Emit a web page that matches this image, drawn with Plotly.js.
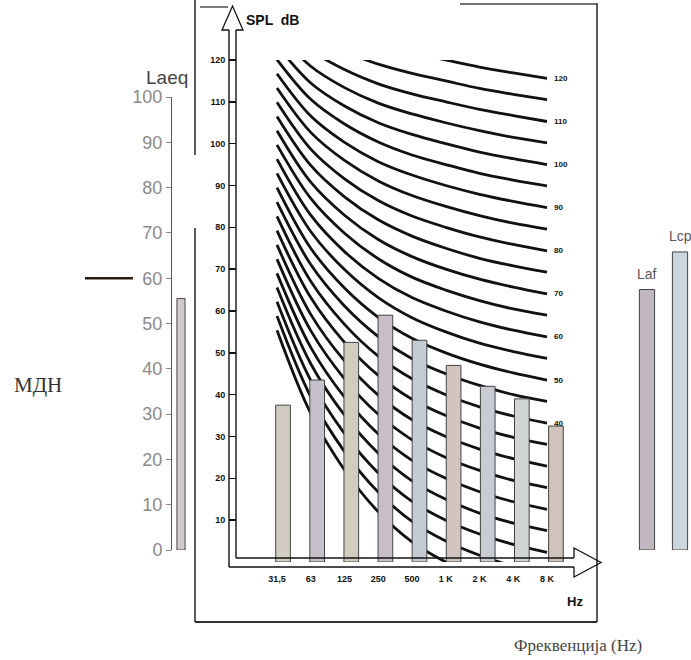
<!DOCTYPE html>
<html><head><meta charset="utf-8">
<script src="https://cdn.plot.ly/plotly-3.0.1.min.js"></script>
<style>html,body{margin:0;padding:0;background:#fff}#chart{width:691px;height:660px}</style>
</head><body><div id="chart"></div>
<script>
// ---- data ----
const bands = ['31,5', '63', '125', '250', '500', '1 K', '2 K', '4 K', '8 K'];
const bandSPL = [37.5, 43.5, 52.5, 59, 53, 47, 42, 39, 32.5];
const bandColors = ['#d2cdc2', '#c6c0ca', '#d1ccbd', '#c9bec7', '#c5cbd3', '#d2c4bf', '#c9cbd3', '#d1d5d4', '#cfc3bb'];
const laeqCat = ['Laeq'];
const laeqValue = [55.5];
const sideLabels = ['Laf', 'Lcp'];
const sideValues = [57.5, 65.8];
const sideColors = ['#c2b8c2', '#cad5dc'];
const limitMDN = 60;
const laeqTicks = [0, 10, 20, 30, 40, 50, 60, 70, 80, 90, 100];
const splTicks = [10, 20, 30, 40, 50, 60, 70, 80, 90, 100, 110, 120];
const nrLevels = [0, 5, 10, 15, 20, 25, 30, 35, 40, 45, 50, 55, 60, 65, 70, 75, 80, 85, 90, 95, 100, 105, 110, 115, 120];
const nrLabelled = [40, 50, 60, 70, 80, 90, 100, 110, 120];
const nr0   = [55.4, 35.5, 22.0, 12.0, 4.8, 0, -3.5, -6.1, -8.0];
const nr5   = [58.8, 39.5, 26.4, 16.7, 9.7, 5, 1.6, -1.0, -2.9];
const nr10  = [62.2, 43.4, 30.7, 21.3, 14.5, 10, 6.7, 4.2, 2.3];
const nr15  = [65.6, 47.4, 35.1, 26.0, 19.4, 15, 11.7, 9.3, 7.5];
const nr20  = [69.0, 51.3, 39.4, 30.6, 24.3, 20, 16.8, 14.4, 12.6];
const nr25  = [72.4, 55.3, 43.8, 35.3, 29.2, 25, 21.9, 19.5, 17.8];
const nr30  = [75.8, 59.2, 48.1, 39.9, 34.0, 30, 27.0, 24.7, 22.9];
const nr35  = [79.2, 63.2, 52.5, 44.6, 38.9, 35, 32.0, 29.8, 28.1];
const nr40  = [82.6, 67.1, 56.8, 49.2, 43.8, 40, 37.1, 34.9, 33.2];
const nr45  = [86.0, 71.1, 61.2, 53.9, 48.6, 45, 42.2, 40.0, 38.4];
const nr50  = [89.5, 75.0, 65.5, 58.5, 53.5, 50, 47.3, 45.2, 43.5];
const nr55  = [92.9, 79.0, 69.9, 63.2, 58.4, 55, 52.3, 50.3, 48.7];
const nr60  = [96.3, 82.9, 74.2, 67.8, 63.2, 60, 57.4, 55.4, 53.8];
const nr65  = [99.7, 86.9, 78.6, 72.5, 68.1, 65, 62.5, 60.5, 59.0];
const nr70  = [103.1, 90.8, 82.9, 77.1, 73.0, 70, 67.6, 65.7, 64.1];
const nr75  = [106.5, 94.8, 87.3, 81.8, 77.9, 75, 72.6, 70.8, 69.3];
const nr80  = [109.9, 98.7, 91.6, 86.4, 82.7, 80, 77.7, 75.9, 74.4];
const nr85  = [113.3, 102.7, 96.0, 91.1, 87.6, 85, 82.8, 81.0, 79.6];
const nr90  = [116.7, 106.6, 100.3, 95.7, 92.5, 90, 87.9, 86.2, 84.7];
const nr95  = [120.1, 110.6, 104.7, 100.4, 97.3, 95, 92.9, 91.3, 89.9];
const nr100 = [123.5, 114.5, 109.0, 105.0, 102.2, 100, 98.0, 96.4, 95.0];
const nr105 = [126.9, 118.5, 113.4, 109.7, 107.1, 105, 103.1, 101.5, 100.2];
const nr110 = [130.3, 122.4, 117.7, 114.3, 111.9, 110, 108.2, 106.7, 105.3];
const nr115 = [133.7, 126.4, 122.1, 119.0, 116.8, 115, 113.2, 111.8, 110.5];
const nr120 = [137.1, 130.3, 126.4, 123.6, 121.7, 120, 118.3, 116.9, 115.6];
const nrCurves = [nr0, nr5, nr10, nr15, nr20, nr25, nr30, nr35, nr40, nr45, nr50, nr55, nr60,
                  nr65, nr70, nr75, nr80, nr85, nr90, nr95, nr100, nr105, nr110, nr115, nr120];

// ---- layout helpers (pixel -> paper) ----
const W = 691, H = 660;
const X = p => p / W;
const Y = p => 1 - p / H;

const traces = [];
nrCurves.forEach((c, i) => {
  traces.push({type: 'scatter', mode: 'lines', x: bands, y: c, xaxis: 'x2', yaxis: 'y2',
    line: {color: '#111', width: 2.8, shape: 'spline', smoothing: 1}, hoverinfo: 'skip', showlegend: false});
});
traces.push({type: 'bar', x: bands, y: bandSPL, xaxis: 'x3', yaxis: 'y2', width: 0.43,
  marker: {color: bandColors, line: {color: '#444', width: 1}}, showlegend: false});
traces.push({type: 'bar', x: laeqCat, y: laeqValue, xaxis: 'x', yaxis: 'y', width: 0.45,
  marker: {color: '#d0cbca', line: {color: '#444', width: 1}}, showlegend: false});
traces.push({type: 'bar', x: sideLabels, y: sideValues, xaxis: 'x4', yaxis: 'y', width: 0.46,
  marker: {color: sideColors, line: {color: '#444', width: 1}}, showlegend: false});

const annotations = [];
nrLabelled.forEach(l => {
  const c = nrCurves[nrLevels.indexOf(l)];
  annotations.push({xref: 'x2', yref: 'y2', x: bands[8], y: c[8], text: String(l), showarrow: false,
    xanchor: 'left', xshift: 5, font: {family: 'Liberation Sans', size: 8, color: '#111', weight: 'bold'}});
});
sideLabels.forEach((l, i) => {
  annotations.push({xref: 'x4', yref: 'y', x: l, y: sideValues[i], text: l, showarrow: false,
    xanchor: 'center', yanchor: 'bottom', yshift: 6, font: {family: 'Liberation Sans', size: 14, color: '#5a5a5a'}});
});
annotations.push(
  {xref: 'paper', yref: 'paper', x: X(167), y: Y(77), text: 'Laeq', showarrow: false, xanchor: 'center', yanchor: 'middle',
   font: {family: 'Liberation Sans', size: 19, color: '#444'}},
  {xref: 'paper', yref: 'paper', x: X(38), y: Y(385), text: 'МДН', showarrow: false, xanchor: 'center', yanchor: 'middle',
   font: {family: 'Liberation Serif', size: 21, color: '#333'}},
  {xref: 'paper', yref: 'paper', x: X(244), y: Y(20), text: 'SPL  dB', showarrow: false, xanchor: 'left', yanchor: 'middle',
   font: {family: 'Liberation Sans', size: 14, color: '#111', weight: 'bold'}},
  {xref: 'paper', yref: 'paper', x: X(575), y: Y(601), text: 'Hz', showarrow: false, xanchor: 'center', yanchor: 'middle',
   font: {family: 'Liberation Sans', size: 13, color: '#111', weight: 'bold'}},
  {xref: 'paper', yref: 'paper', x: X(578), y: Y(645), text: 'Фреквенција (Hz)', showarrow: false, xanchor: 'center', yanchor: 'middle',
   font: {family: 'Liberation Serif', size: 17, color: '#444'}}
);

const ln = (x0, y0, x1, y1, w, col) => ({type: 'line', xref: 'paper', yref: 'paper',
  x0: X(x0), y0: Y(y0), x1: X(x1), y1: Y(y1), line: {color: col || '#222', width: w || 1.5}});
const pth = (pts, w) => ({type: 'path', xref: 'paper', yref: 'paper',
  path: 'M ' + pts.map(p => X(p[0]) + ',' + Y(p[1])).join(' L '), line: {color: '#111', width: w || 1.3}});

const shapes = [
  // frame
  ln(195, 0, 195, 155, 1.6, '#333'), ln(195, 228, 195, 622, 1.6, '#333'),
  ln(195, 622, 597, 622, 1.8, '#333'), ln(597, 3, 597, 622, 1.6, '#333'),
  ln(460, 4, 597, 4, 1.4, '#444'), ln(200, 7, 228, 7, 1.4, '#444'),
  // SPL axis (hollow arrow)
  ln(229, 30, 229, 567, 1.4, '#111'), ln(236, 30, 236, 558, 1.4, '#111'),
  pth([[229, 30], [222, 30], [232.5, 6], [243, 30], [236, 30]]),
  // frequency axis (hollow arrow)
  ln(236, 558, 574, 558, 1.4, '#111'), ln(229, 567, 574, 567, 1.4, '#111'),
  pth([[574, 558], [574, 548], [601, 562.5], [574, 577], [574, 567]]),
  // limit line
  {type: 'line', xref: 'paper', yref: 'y', x0: X(85), x1: X(133), y0: limitMDN, y1: limitMDN,
   line: {color: '#2a1a10', width: 2.5}}
];

const layout = {
  width: W, height: H, margin: {l: 0, r: 0, t: 0, b: 0},
  paper_bgcolor: '#fff', plot_bgcolor: 'rgba(0,0,0,0)', showlegend: false,
  xaxis: {domain: [X(172), X(190)], range: [-0.5, 0.5], visible: false, fixedrange: true},
  yaxis: {domain: [Y(550), Y(97)], range: [0, 100], anchor: 'x', tickvals: laeqTicks,
    showline: true, linecolor: '#555', linewidth: 1, ticks: 'outside', ticklen: 5, tickcolor: '#888',
    showgrid: false, zeroline: false,
    tickfont: {family: 'Liberation Sans', size: 18, color: '#8a8a8a'}},
  xaxis2: {domain: [X(266), X(573)], range: [-0.326, 8.77], type: 'category', anchor: 'y2',
    showline: false, showgrid: false, zeroline: false, ticks: '', ticklabelstandoff: 10,
    tickfont: {family: 'Liberation Sans', size: 9, color: '#111', weight: 'bold'}},
  xaxis3: {domain: [X(266), X(573)], range: [-0.5, 8.5], type: 'category', anchor: 'y2', visible: false},
  xaxis4: {domain: [X(625), X(691)], range: [-0.667, 1.333], type: 'category', anchor: 'y', visible: false},
  yaxis2: {domain: [Y(562), Y(60)], range: [0, 120], anchor: 'free', position: X(236),
    tickvals: splTicks, showline: false, showgrid: false, zeroline: false,
    ticks: 'outside', ticklen: 7, tickwidth: 1.4, tickcolor: '#111', ticklabelstandoff: 2,
    tickfont: {family: 'Liberation Sans', size: 9, color: '#111', weight: 'bold'}},
  shapes: shapes,
  annotations: annotations
};

Plotly.newPlot('chart', traces, layout, {staticPlot: true, displayModeBar: false});
</script>
</body></html>
